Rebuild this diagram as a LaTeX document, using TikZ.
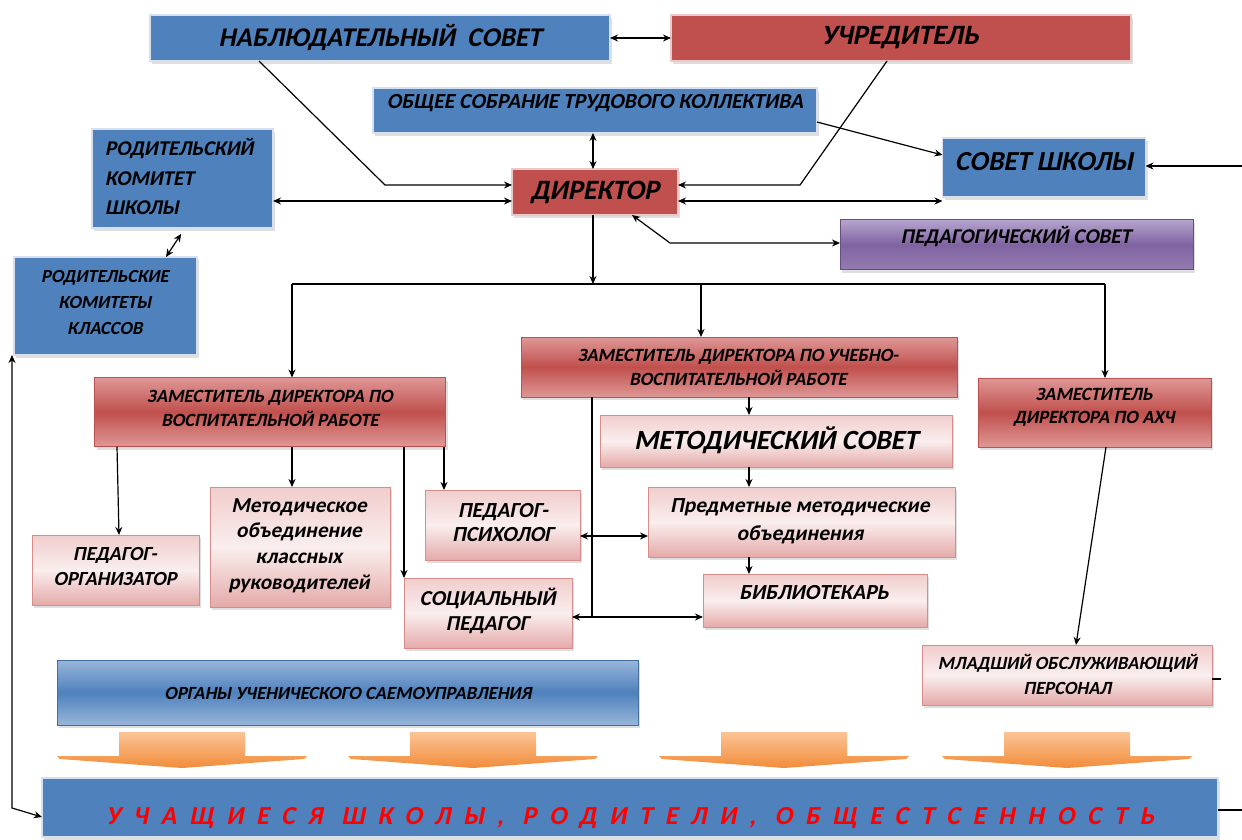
\documentclass[tikz,border=0pt]{standalone}
\usepackage{fontspec}
\setmainfont{Carlito}
\newfontfamily\bifont{Carlito}[FakeSlant=0.2]
\newfontfamily\spacedfont{Carlito}[LetterSpace=49.5,FakeSlant=0.2]
\usetikzlibrary{arrows.meta,shadows}
\definecolor{oblue}{RGB}{79,129,189}
\definecolor{oblueedge}{RGB}{214,224,238}
\definecolor{ored}{RGB}{192,80,77}
\definecolor{orededge}{RGB}{236,200,198}
\definecolor{lred}{RGB}{222,152,150}
\definecolor{pinkT}{RGB}{240,205,204}
\definecolor{pinkM}{RGB}{250,238,238}
\definecolor{pinkB}{RGB}{228,170,169}
\definecolor{pinkedge}{RGB}{214,140,138}
\definecolor{purpM}{RGB}{128,100,162}
\definecolor{purpL}{RGB}{182,165,206}
\definecolor{lblue}{RGB}{152,182,218}
\definecolor{orT}{RGB}{250,196,150}
\definecolor{orB}{RGB}{242,140,58}
\definecolor{txtred}{RGB}{255,0,0}
\newcommand{\fsz}[2]{\bifont\fontsize{#1}{#2}\selectfont\bfseries}
\tikzset{
  box/.style={rectangle, inner sep=0pt, outer sep=0pt,
    drop shadow={shadow xshift=2pt, shadow yshift=-3pt, opacity=0.25}},
  bluebox/.style={box, fill=oblue, draw=oblueedge, line width=1.5pt},
  redbox/.style={box, fill=ored, draw=orededge, line width=1.5pt},
  zambox/.style={box, top color=lred, bottom color=lred, middle color=ored, draw=ored, line width=1pt},
  pinkbox/.style={box, top color=pinkT, bottom color=pinkB, middle color=pinkM, draw=pinkedge, line width=1pt},
  purpbox/.style={box, top color=purpL, bottom color=purpM!85!white, middle color=purpM, draw=purpM!80!black, line width=1pt},
  gbluebox/.style={box, top color=lblue, bottom color=lblue, middle color=oblue, draw=oblue!85!black, line width=1pt},
  txt/.style={inner sep=0pt, align=center, text=black},
  ln/.style={line width=1.2pt, draw=black},
  con/.style={ln, -{Stealth[length=8pt,width=7pt]}},
  dcon/.style={ln, {Stealth[length=8pt,width=7pt]}-{Stealth[length=8pt,width=7pt]}},
  orarrow/.style={top color=orT, bottom color=orB, draw=none}
}
\begin{document}
\begin{tikzpicture}[x=1pt,y=-1pt]
\useasboundingbox (0,0) rectangle (1242,839);
% boxes
\node[bluebox, minimum width=460pt, minimum height=46pt] (nab) at (380,38) {};
\node[redbox, minimum width=460pt, minimum height=46pt] (uch) at (901,38) {};
\node[bluebox, minimum width=444pt, minimum height=45pt] (obs) at (595,110.5) {};
\node[bluebox, minimum width=181pt, minimum height=99pt] (rks) at (182.5,178.5) {};
\node[bluebox, minimum width=203pt, minimum height=59pt] (sov) at (1044,167.5) {};
\node[redbox, minimum width=166pt, minimum height=46pt] (dir) at (595,192) {};
\node[purpbox, minimum width=353pt, minimum height=50pt] (ped) at (1016.5,244.5) {};
\node[bluebox, minimum width=183pt, minimum height=98pt] (rkk) at (105.5,306) {};
\node[zambox, minimum width=351pt, minimum height=69pt] (zvr) at (270,412) {};
\node[zambox, minimum width=436pt, minimum height=60pt] (zuvr) at (739,367) {};
\node[zambox, minimum width=233pt, minimum height=69pt] (zahch) at (1094.5,412.5) {};
\node[pinkbox, minimum width=352pt, minimum height=52pt] (msov) at (776,441) {};
\node[pinkbox, minimum width=307pt, minimum height=70pt] (pmo) at (801.5,522) {};
\node[pinkbox, minimum width=224pt, minimum height=53pt] (bib) at (815,600.5) {};
\node[pinkbox, minimum width=155pt, minimum height=70pt] (psy) at (502.5,525) {};
\node[pinkbox, minimum width=168pt, minimum height=70pt] (soc) at (488,613) {};
\node[pinkbox, minimum width=180pt, minimum height=120pt] (mokr) at (300,547) {};
\node[pinkbox, minimum width=167pt, minimum height=70pt] (porg) at (115.5,570) {};
\node[pinkbox, minimum width=290pt, minimum height=60pt] (mlad) at (1067,675) {};
\node[gbluebox, minimum width=581pt, minimum height=65pt] (org) at (347.5,692.5) {};
\node[bluebox, minimum width=1176pt, minimum height=59pt] (uchas) at (630,807.5) {};
% texts
\node[txt, font=\fsz{27}{30}] (tnab) at (380,38) {НАБЛЮДАТЕЛЬНЫЙ\ \ СОВЕТ};
\node[txt, font=\fsz{28}{30}] (tuch) at (900,38) {УЧРЕДИТЕЛЬ};
\node[txt, font=\fsz{21.5}{24}] (tobs) at (595,103) {ОБЩЕЕ СОБРАНИЕ ТРУДОВОГО КОЛЛЕКТИВА};
\node[txt, font=\fsz{21}{29.5}, align=left, anchor=west] (trks) at (105,176.5) {РОДИТЕЛЬСКИЙ\\КОМИТЕТ\\ШКОЛЫ};
\node[txt, font=\fsz{27.5}{30}] (tsov) at (1044,162) {СОВЕТ ШКОЛЫ};
\node[txt, font=\fsz{28}{30}] (tdir) at (595,192) {ДИРЕКТОР};
\node[txt, font=\fsz{21}{24}] (tped) at (1016,237) {ПЕДАГОГИЧЕСКИЙ СОВЕТ};
\node[txt, font=\fsz{18.5}{26}] (trkk) at (105,302) {РОДИТЕЛЬСКИЕ\\КОМИТЕТЫ\\КЛАССОВ};
\node[txt, font=\fsz{18.7}{24}] (tzvr) at (270,408) {ЗАМЕСТИТЕЛЬ ДИРЕКТОРА ПО\\ВОСПИТАТЕЛЬНОЙ РАБОТЕ};
\node[txt, font=\fsz{18.7}{24}] (tzuvr) at (738,367) {ЗАМЕСТИТЕЛЬ ДИРЕКТОРА ПО УЧЕБНО-\\ВОСПИТАТЕЛЬНОЙ РАБОТЕ};
\node[txt, font=\fsz{18.7}{23}] (tzahch) at (1094,407) {ЗАМЕСТИТЕЛЬ\\ДИРЕКТОРА ПО АХЧ};
\node[txt, font=\fsz{27.8}{30}] (tmsov) at (776,440) {МЕТОДИЧЕСКИЙ СОВЕТ};
\node[txt, font=\fsz{21.5}{28}] (tpmo) at (800,521) {Предметные методические\\объединения};
\node[txt, font=\fsz{21.5}{24}] (tbib) at (814,593) {БИБЛИОТЕКАРЬ};
\node[txt, font=\fsz{21.5}{24}] (tpsy) at (503,523) {ПЕДАГОГ-\\ПСИХОЛОГ};
\node[txt, font=\fsz{21.3}{25}] (tsoc) at (487.5,610.5) {СОЦИАЛЬНЫЙ\\ПЕДАГОГ};
\node[txt, font=\fsz{21.3}{25.7}] (tmokr) at (299,545.5) {Методическое\\объединение\\классных\\руководителей};
\node[txt, font=\fsz{20}{25}] (tporg) at (115,566.5) {ПЕДАГОГ-\\ОРГАНИЗАТОР};
\node[txt, font=\fsz{18.6}{25}] (tmlad) at (1067.5,674.5) {МЛАДШИЙ ОБСЛУЖИВАЮЩИЙ\\ПЕРСОНАЛ};
\node[txt, font=\fsz{18.6}{20}] (torg) at (348,693) {ОРГАНЫ УЧЕНИЧЕСКОГО САЕМОУПРАВЛЕНИЯ};
\node[txt, text=txtred, font=\spacedfont\fontsize{26}{30}\selectfont\bfseries] (tuchas) at (630,818) {УЧАЩИЕСЯ ШКОЛЫ, РОДИТЕЛИ, ОБЩЕСТСЕННОСТЬ};
% orange arrows
\foreach \cx in {182,473,784,1067} {
  \path[orarrow] (\cx-63,732) -- (\cx+63,732) -- (\cx+63,756) -- (\cx+125,756)
     -- (\cx+122,759) -- (\cx,768) -- (\cx-122,759) -- (\cx-125,756) -- (\cx-63,756) -- cycle;
}
% connectors (top)
\draw[dcon] (nab.east) -- (uch.west);
\draw[con] (nab.south -| 259,0) -- (385,185) -- (dir.west |- 0,185);
\draw[con] (uch.south -| 887,0) -- (800,185) -- (dir.east |- 0,185);
\draw[dcon] (obs.south -| 593,0) -- (dir.north -| 593,0);
\draw[con] (obs.east |- 0,122) -- (sov.west |- 0,155);
\draw[dcon] (rks.east |- 0,201) -- (dir.west |- 0,201);
\draw[dcon] (dir.east |- 0,201) -- (sov.west |- 0,201);
\coordinate (rin) at (1242,166);
\draw[con] (rin) -- (sov.east |- rin);
\draw[dcon] (dir.south -| 632,0) -- (670,243) -- (ped.west |- 0,243);
\draw[dcon, shorten <=7pt] (rks.south -| 185,0) -- (rkk.north -| 166,0);
% director distribution
\coordinate (hub) at (593,284);
\coordinate (bL) at (292,284);
\coordinate (bM) at (701,284);
\coordinate (bR) at (1105,284);
\draw[con] (dir.south -| hub) -- (hub);
\draw[ln] (bL) -- (bR);
\draw[con] (bL) -- (zvr.north -| bL);
\draw[con] (bM) -- (zuvr.north -| bM);
\draw[con] (bR) -- (zahch.north -| bR);
% ZVR children
\draw[con] (zvr.south -| 117,0) -- (porg.north -| 119,0);
\draw[con] (zvr.south -| 292,0) -- (mokr.north -| 292,0);
\draw[con] (zvr.south -| 404,0) -- (soc.north -| 404,0);
\draw[con] (zvr.south -| 444,0) -- (psy.north -| 444,0);
% ZUVR children
\coordinate (vb) at (592,617);
\draw[ln] (zuvr.south -| vb) -- (vb);
\draw[dcon] (psy.east |- 0,536) -- (pmo.west |- 0,536);
\draw[dcon] (soc.east |- vb) -- (bib.west |- vb);
\draw[con] (zuvr.south -| 749,0) -- (msov.north -| 749,0);
\draw[con] (msov.south -| 749,0) -- (pmo.north -| 749,0);
\draw[con] (pmo.south -| 749,0) -- (bib.north -| 749,0);
% AHCh
\draw[con] (zahch.south -| 1106,0) -- (mlad.north -| 1076,0);
\coordinate (mstub) at (1221,679);
\draw[ln] (mlad.east |- mstub) -- (mstub);
\coordinate (ustub) at (1242,810);
\draw[ln] (uchas.east |- ustub) -- (ustub);
% left loop
\coordinate (lc) at (12,808);
\draw[dcon] (rkk.south -| lc) -- (lc) -- (uchas.west |- 0,817);
\end{tikzpicture}
\end{document}
